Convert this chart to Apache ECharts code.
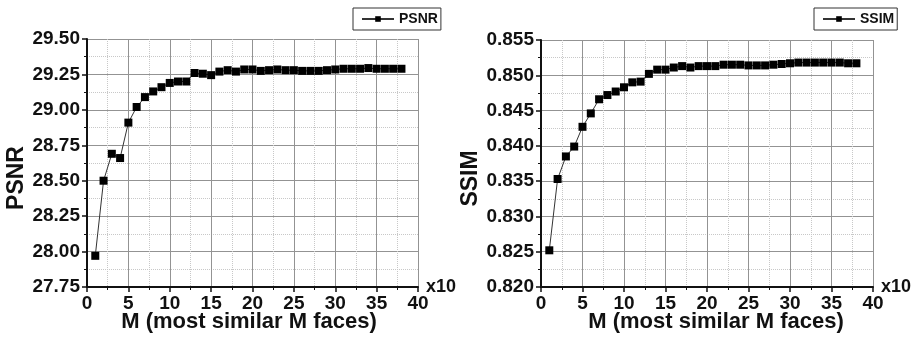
<!DOCTYPE html>
<html>
<head>
<meta charset="utf-8">
<script src="https://cdn.jsdelivr.net/npm/echarts@6/dist/echarts.min.js"></script>
<style>
  html, body { margin: 0; padding: 0; background: #fff; }
  #chart { width: 920px; height: 339px; }
</style>
</head>
<body>
<div id="chart"></div>
<script>
// M (x10) values shared by both plots
const mValues = [1, 2, 3, 4, 5, 6, 7, 8, 9, 10, 11, 12, 13, 14, 15, 16, 17, 18, 19, 20,
  21, 22, 23, 24, 25, 26, 27, 28, 29, 30, 31, 32, 33, 34, 35, 36, 37, 38];

const psnrValues = [27.97, 28.50, 28.69, 28.66, 28.91, 29.02, 29.09, 29.13, 29.16, 29.19,
  29.20, 29.20, 29.26, 29.255, 29.245, 29.27, 29.28, 29.27, 29.285, 29.285,
  29.275, 29.28, 29.285, 29.28, 29.28, 29.275, 29.275, 29.275, 29.28, 29.285,
  29.29, 29.29, 29.29, 29.295, 29.29, 29.29, 29.29, 29.29];

const ssimValues = [0.8252, 0.8353, 0.8385, 0.8399, 0.8427, 0.8446, 0.8466, 0.8472, 0.8477, 0.8483,
  0.8490, 0.8491, 0.8502, 0.8508, 0.8508, 0.8511, 0.8513, 0.8511, 0.8513, 0.8513,
  0.8513, 0.8515, 0.8515, 0.8515, 0.8514, 0.8514, 0.8514, 0.8515, 0.8516, 0.8517,
  0.8518, 0.8518, 0.8518, 0.8518, 0.8518, 0.8518, 0.8517, 0.8517];

const xTicks = { min: 0, max: 40, interval: 5 };
const psnrTicks = { min: 27.75, max: 29.5, interval: 0.25 };
const ssimTicks = { min: 0.82, max: 0.855, interval: 0.005 };

const FONT = '"Liberation Sans", Arial, sans-serif';

const chart = echarts.init(document.getElementById('chart'));

function xAxisFor(gridIndex) {
  return {
    type: 'value',
    gridIndex,
    min: xTicks.min,
    max: xTicks.max,
    interval: xTicks.interval,
    name: 'x10',
    nameLocation: 'end',
    nameGap: 8,
    nameMoveOverlap: false,
    nameTextStyle: { fontFamily: FONT, fontWeight: 'bold', fontSize: 18, color: '#111', padding: [4, 0, 0, 0] },
    axisLine: { show: true, onZero: false, lineStyle: { color: '#111', width: 2 } },
    axisTick: { show: true, inside: false, length: 5, lineStyle: { color: '#111', width: 1.5 } },
    minorTick: { show: true, splitNumber: 2, length: 3, lineStyle: { color: '#111' } },
    axisLabel: { fontFamily: FONT, fontWeight: 'bold', fontSize: 19, color: '#111', margin: 7 },
    splitLine: { show: true, lineStyle: { color: '#939393', width: 1 } },
    minorSplitLine: { show: true, lineStyle: { color: '#c8c8c8', type: 'dotted', width: 1 } }
  };
}

function yAxisFor(gridIndex, ticks, digits, title, gap) {
  return {
    type: 'value',
    gridIndex,
    min: ticks.min,
    max: ticks.max,
    interval: ticks.interval,
    name: title,
    nameLocation: 'middle',
    nameGap: gap,
    nameTextStyle: { fontFamily: FONT, fontWeight: 'bold', fontSize: 23, color: '#111', padding: [0, 30, 0, 0] },
    axisLine: { show: true, lineStyle: { color: '#111', width: 2 } },
    axisTick: { show: true, inside: false, length: 5, lineStyle: { color: '#111', width: 1.5 } },
    minorTick: { show: true, splitNumber: 2, length: 3, lineStyle: { color: '#111' } },
    axisLabel: {
      fontFamily: FONT, fontWeight: 'bold', fontSize: 19, color: '#111', margin: 7,
      formatter: (v) => v.toFixed(digits)
    },
    splitLine: { show: true, lineStyle: { color: '#939393', width: 1 } },
    minorSplitLine: { show: true, lineStyle: { color: '#c8c8c8', type: 'dotted', width: 1 } }
  };
}

function seriesFor(name, values, idx) {
  return {
    name,
    type: 'line',
    xAxisIndex: idx,
    yAxisIndex: idx,
    data: mValues.map((m, i) => [m, values[i]]),
    symbol: 'rect',
    symbolSize: 8,
    itemStyle: { color: '#000' },
    lineStyle: { color: '#333', width: 1 },
    animation: false
  };
}

const legendBase = {
  orient: 'horizontal',
  top: 8,
  padding: [4, 3, 4, 8],
  itemWidth: 32,
  itemHeight: 7,
  itemGap: 6,
  borderColor: '#333',
  borderWidth: 1,
  borderRadius: 0,
  textStyle: { fontFamily: FONT, fontWeight: 'bold', fontSize: 14, color: '#111' }
};

const titleStyle = { text: 'M (most similar M faces)', font: 'bold 22px ' + FONT, fill: '#111', textAlign: 'center', textVerticalAlign: 'top' };

const option = {
  backgroundColor: '#fff',
  animation: false,
  grid: [
    { left: 87, top: 39, width: 331, height: 248 },
    { left: 541, top: 40, width: 332, height: 247 }
  ],
  legend: [
    Object.assign({}, legendBase, { left: 353, data: ['PSNR'] }),
    Object.assign({}, legendBase, { left: 814, data: ['SSIM'] })
  ],
  xAxis: [xAxisFor(0), xAxisFor(1)],
  yAxis: [
    yAxisFor(0, psnrTicks, 2, 'PSNR', 58),
    yAxisFor(1, ssimTicks, 3, 'SSIM', 53)
  ],
  series: [
    seriesFor('PSNR', psnrValues, 0),
    seriesFor('SSIM', ssimValues, 1)
  ],
  // bottom axis titles (the axis name slot is taken by "x10")
  graphic: [
    { type: 'text', x: 249, y: 311, style: Object.assign({}, titleStyle) },
    { type: 'text', x: 716, y: 311, style: Object.assign({}, titleStyle) }
  ]
};

chart.setOption(option);
</script>
</body>
</html>
